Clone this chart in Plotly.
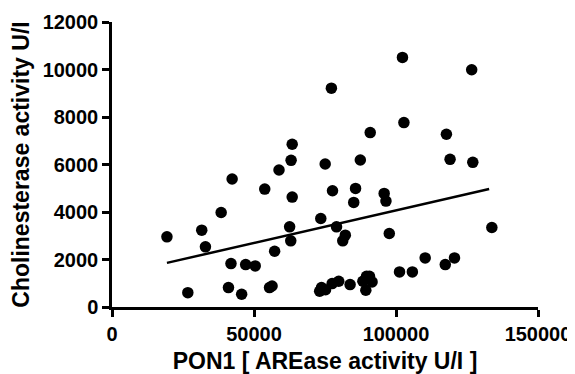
import plotly.graph_objects as go

pon1 = [19345, 26700, 31600, 32900, 38430, 41010, 41900, 42300, 45650, 47070,
        50430, 53780, 55460, 56360, 57260, 58810, 62550, 62940, 63060, 63450,
        63450, 73120, 73770, 73510, 75060, 75190, 77250, 77510, 77640, 79060,
        79830, 81250, 82150, 83830, 85120, 85760, 87440, 88340, 89370, 89630,
        90660, 90920, 91570, 95830, 96470, 97630, 101240, 102270, 102790, 105760,
        110270, 117360, 117750, 119040, 120590, 126650, 127040, 133750]
che = [2954, 605, 3236, 2532, 3981, 816, 1829, 5388, 535, 1787,
       1730, 4966, 816, 886, 2349, 5768, 3376, 2785, 6176, 6851,
       4628, 661, 816, 3728, 6021, 731, 9215, 985, 4896, 3376,
       1083, 2785, 3025, 943, 4403, 4994, 6190, 1083, 703, 1294,
       1294, 7344, 1055, 4783, 4460, 3095, 1477, 10509, 7766, 1477,
       2068, 1787, 7273, 6218, 2068, 9988, 6092, 3348]

fit_x = [19345, 132800]
fit_y = [1857, 4966]

x_ticks = [0, 50000, 100000, 150000]
y_ticks = [0, 2000, 4000, 6000, 8000, 10000, 12000]

font_family = "Liberation Sans, Arial, Helvetica, sans-serif"

fig = go.Figure()
fig.add_trace(go.Scatter(x=pon1, y=che, mode="markers",
                         marker=dict(color="black", size=11.5),
                         cliponaxis=False, showlegend=False))
fig.add_trace(go.Scatter(x=fit_x, y=fit_y, mode="lines",
                         line=dict(color="black", width=2.5),
                         showlegend=False))

axis_common = dict(showline=True, linecolor="black", linewidth=2.5,
                   ticks="outside", ticklen=7, tickwidth=2.5, tickcolor="black",
                   showgrid=False, zeroline=False,
                   tickfont=dict(family=font_family, size=20, color="black", weight="bold"))

fig.update_xaxes(range=[0, 150000], tickvals=x_ticks,
                 ticktext=[str(v) for v in x_ticks],
                 title=dict(text="PON1 [ AREase activity U/I ]", standoff=17,
                            font=dict(family=font_family, size=23, color="black", weight="bold")),
                 **axis_common)
fig.update_yaxes(range=[0, 12000], tickvals=y_ticks,
                 ticktext=[str(v) for v in y_ticks],
                 title=dict(text="Cholinesterase activity U/I", standoff=8,
                            font=dict(family=font_family, size=23, color="black", weight="bold")),
                 **axis_common)

# page body has an 8px margin: size the figure so it fits the 575x374 window
fig.update_layout(width=567, height=366,
                  margin=dict(l=104, r=37, t=14, b=67, autoexpand=False),
                  plot_bgcolor="white", paper_bgcolor="white")

fig.write_html("out.html")
